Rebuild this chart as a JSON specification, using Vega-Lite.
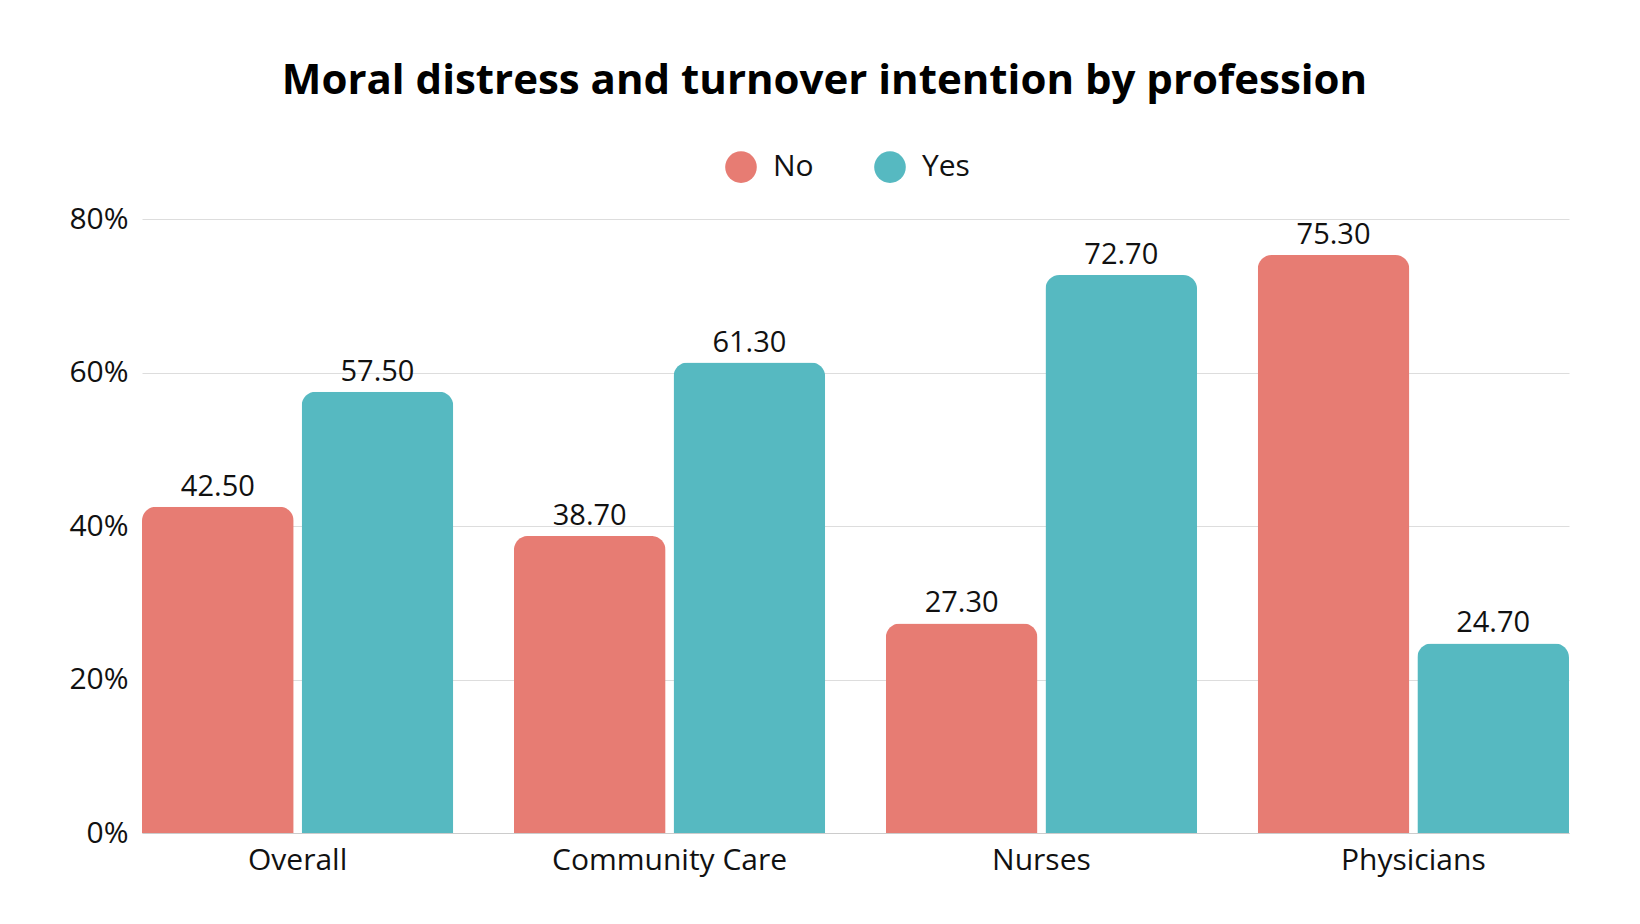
{
"$schema":"https://vega.github.io/schema/vega-lite/v6.json",
"autosize":{"type":"none"},
"padding":{"left":142,"top":219,"right":71,"bottom":91},
"width":1427,"height":614,
"background":"white",
"config":{"view":{"stroke":null}},
"title":{"text":"Moral distress and turnover intention by profession","fontSize":42,"fontWeight":"bold","font":"Open Sans","color":"#000","anchor":"middle","offset":48,"dx":-31},
"data":{"values":[
{"g":"Overall","s":"No","v":42.5},{"g":"Overall","s":"Yes","v":57.5},
{"g":"Community Care","s":"No","v":38.7},{"g":"Community Care","s":"Yes","v":61.3},
{"g":"Nurses","s":"No","v":27.3},{"g":"Nurses","s":"Yes","v":72.7},
{"g":"Physicians","s":"No","v":75.3},{"g":"Physicians","s":"Yes","v":24.7}]},
"encoding":{
"x":{"field":"g","type":"nominal","sort":null,"title":null,"scale":{"paddingInner":0.163,"paddingOuter":0},
 "axis":{"labelAngle":0,"labelFontSize":30,"labelFont":"Open Sans","labelColor":"#111","labelLimit":0,"ticks":false,"domainColor":"#ccc","labelPadding":12}},
"xOffset":{"field":"s","type":"nominal","scale":{"paddingInner":0.05}},
"y":{"field":"v","type":"quantitative","title":null,"scale":{"domain":[0,80]},
 "axis":{"values":[0,20,40,60,80],"labelExpr":"datum.value+'%'","labelFontSize":30,"labelFont":"Open Sans","labelColor":"#111","ticks":false,"domain":false,"gridColor":"#ddd","labelPadding":14}}
},
"layer":[
{"mark":{"type":"bar","cornerRadiusTopLeft":14,"cornerRadiusTopRight":14},
 "encoding":{"color":{"field":"s","type":"nominal","scale":{"range":["#E77C73","#56B9C1"]},"title":null,
 "legend":{"orient":"none","direction":"horizontal","legendX":583,"legendY":-68,"symbolType":"circle","symbolSize":1000,"labelFontSize":30,"labelFont":"Open Sans","labelColor":"#111","labelOffset":16,"columnPadding":60,"symbolStrokeWidth":0}}}},
{"mark":{"type":"text","dy":-20,"fontSize":29,"font":"Open Sans","color":"#111"},
 "encoding":{"text":{"field":"v","type":"quantitative","format":".2f"},"detail":{"field":"s"}}}
]
}
